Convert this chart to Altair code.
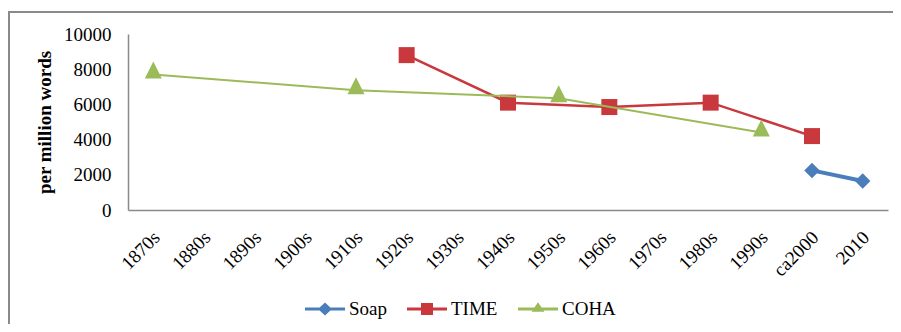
import altair as alt
import pandas as pd

categories = ["1870s", "1880s", "1890s", "1900s", "1910s", "1920s", "1930s", "1940s",
              "1950s", "1960s", "1970s", "1980s", "1990s", "ca2000", "2010"]
series_names = ["Soap", "TIME", "COHA"]
soap_values = [None, None, None, None, None, None, None, None, None, None, None, None, None, 2250, 1650]
time_values = [None, None, None, None, None, 8800, None, 6100, None, 5850, None, 6100, None, 4200, None]
coha_values = [7700, None, None, None, 6800, None, None, None, 6350, None, None, None, 4400, None, None]
series_colors = ["#4A7EBB", "#C8383C", "#9BBB59"]
line_widths = [4, 2.5, 2]
y_ticks = [0, 2000, 4000, 6000, 8000, 10000]

rows = []
for name, vals in zip(series_names, [soap_values, time_values, coha_values]):
    for i, (cat, v) in enumerate(zip(categories, vals)):
        if v is not None:
            rows.append({"decade": cat, "series": name, "value": v, "idx": i})
df = pd.DataFrame(rows)

FONT = "Liberation Serif"
FS = 19

x_enc = alt.X(
    "decade:N",
    sort=categories,
    scale=alt.Scale(domain=categories, type="point", padding=0.5),
    axis=alt.Axis(title=None, labelAngle=-45, labelAlign="right", labelBaseline="middle",
                  labelFont=FONT, labelFontSize=FS, labelColor="black",
                  labelPadding=24, labelOffset=3, ticks=False, tickSize=0,
                  domainColor="#8a8a8a", domainWidth=1.5, grid=False, labelOverlap=False),
)
y_enc = alt.Y(
    "value:Q",
    scale=alt.Scale(domain=[0, 10000], nice=False),
    axis=alt.Axis(values=y_ticks, format="d", title="per million words", titleFont=FONT,
                  titleFontWeight="bold", titleFontSize=FS, titleColor="black",
                  titlePadding=9, labelFont=FONT, labelFontSize=FS, labelColor="black",
                  labelPadding=17, ticks=False, tickSize=0, grid=False,
                  domainColor="#8a8a8a", domainWidth=1.5),
)

# legend symbols: line with marker
legend_paths = [
    "M-1,-0.08L-0.27,-0.08L0,-0.32L0.27,-0.08L1,-0.08L1,0.08L0.27,0.08L0,0.32L-0.27,0.08L-1,0.08Z",
    "M-1,-0.08L-0.3,-0.08L-0.3,-0.3L0.3,-0.3L0.3,-0.08L1,-0.08L1,0.08L0.3,0.08L0.3,0.3L-0.3,0.3L-0.3,0.08L-1,0.08Z",
    "M-1,-0.08H1V0.08H-1Z M0,-0.34L0.32,0.14L-0.32,0.14Z",
]
legend_def = alt.Legend(title=None, orient="none", legendX=177, legendY=255,
                        direction="horizontal", columns=3, symbolSize=1600,
                        symbolStrokeWidth=0, labelFont=FONT, labelFontSize=FS,
                        labelColor="black", labelOffset=4, columnPadding=20, padding=0)

legend_layer = alt.Chart(df).transform_filter("false").mark_point(filled=True, opacity=1).encode(
    color=alt.Color("series:N", scale=alt.Scale(domain=series_names, range=series_colors), legend=legend_def),
    shape=alt.Shape("series:N", scale=alt.Scale(domain=series_names, range=legend_paths), legend=legend_def),
)

frame_data = pd.DataFrame({"k": [0]})
frame_left = alt.Chart(frame_data).mark_rule(color="#8a8a8a", strokeWidth=2).encode(
    x=alt.value(-119), y=alt.value(-23), y2=alt.value(400))
frame_top = alt.Chart(frame_data).mark_rule(color="#8a8a8a", strokeWidth=2).encode(
    x=alt.value(-120), x2=alt.value(800), y=alt.value(-22))

marker_shapes = ["diamond", "square", "M0,-1.53L1,0.47L-1,0.47Z"]
marker_sizes = [240, 256, 289]

layers = [legend_layer, frame_left, frame_top]
base = alt.Chart(df)
for name, col, lw, shp, sz in zip(series_names, series_colors, line_widths, marker_shapes, marker_sizes):
    sub = base.transform_filter(alt.datum.series == name)
    layers.append(sub.mark_line(color=col, strokeWidth=lw).encode(x=x_enc, y=y_enc, order=alt.Order("idx:Q")))
    layers.append(sub.mark_point(filled=True, opacity=1, color=col, shape=shp, size=sz).encode(x=x_enc, y=y_enc))

chart = alt.layer(*layers).properties(
    width=760, height=176,
    autosize=alt.AutoSizeParams(type="none"),
    padding={"left": 120, "top": 26, "right": 5, "bottom": 114},
    background="white",
).configure_view(stroke=None)

chart.save("out.html", embed_options={"renderer": "svg", "actions": False})
